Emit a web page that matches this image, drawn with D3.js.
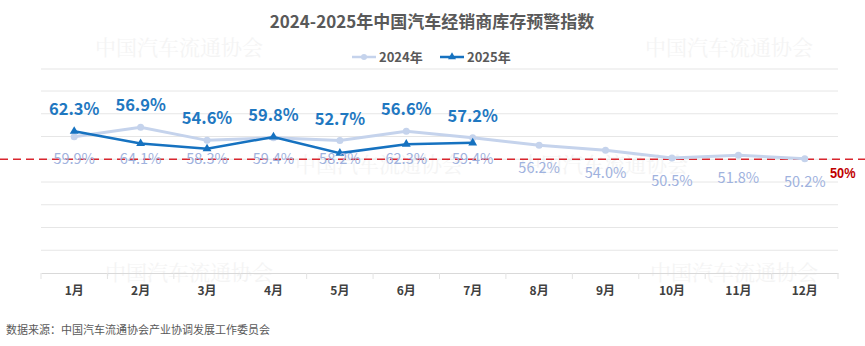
<!DOCTYPE html>
<html>
<head>
<meta charset="utf-8">
<script src="https://cdn.jsdelivr.net/npm/d3@7/dist/d3.min.js"></script>
<style>
  html, body { margin: 0; padding: 0; background: #fff; }
  svg { display: block; font-family: "Noto Sans CJK SC", "Noto Sans", sans-serif; }
</style>
</head>
<body>
<svg id="chart" width="865" height="346"></svg>
<script>
// Monthly dealer inventory warning index (%)
const months = ["1月", "2月", "3月", "4月", "5月", "6月", "7月", "8月", "9月", "10月", "11月", "12月"];
const values2024 = [59.9, 64.1, 58.3, 59.4, 58.2, 62.3, 59.4, 56.2, 54.0, 50.5, 51.8, 50.2];
const values2025 = [62.3, 56.9, 54.6, 59.8, 52.7, 56.6, 57.2];
const yTicks = [0, 10, 20, 30, 40, 50, 60, 70, 80];
const threshold = 50;
const titleText = "2024-2025年中国汽车经销商库存预警指数";
const seriesNames = ["2024年", "2025年"];
const sourceText = "数据来源：中国汽车流通协会产业协调发展工作委员会";
const watermark = "中国汽车流通协会";

const svg = d3.select("#chart");
const W = 865, H = 346;
const plotLeft = 41, plotRight = 838, plotTop = 91, plotBottom = 273;

const x = d3.scaleBand().domain(months).range([plotLeft, plotRight]);
const y = d3.scaleLinear().domain([0, 80]).range([plotBottom, plotTop]);
const cx = m => x(m) + x.bandwidth() / 2;

// faint association watermarks
const wm = svg.append("g").attr("fill", "#f4f4f4")
  .attr("font-family", "'Noto Serif CJK SC', 'DejaVu Serif', serif")
  .attr("font-size", 21);
[[95, 55], [645, 55], [295, 172], [520, 172], [105, 280], [650, 280]].forEach(([wx, wy]) => {
  wm.append("text").attr("x", wx).attr("y", wy).text(watermark);
});

// title
svg.append("text")
  .attr("x", 432).attr("y", 28)
  .attr("text-anchor", "middle")
  .attr("font-size", 17).attr("font-weight", "bold")
  .attr("fill", "#595959")
  .text(titleText);

// separator under legend
svg.append("line")
  .attr("x1", plotLeft).attr("x2", plotRight).attr("y1", 69).attr("y2", 69)
  .attr("stroke", "#eeeeee").attr("stroke-width", 1.5);

// legend
const legend = svg.append("g").attr("font-size", 13).attr("font-weight", "bold").attr("fill", "#595959");
const lg1 = legend.append("g").attr("transform", "translate(352,57)");
lg1.append("line").attr("x1", 0).attr("x2", 24).attr("stroke", "#c5d3ec").attr("stroke-width", 2.5);
lg1.append("circle").attr("cx", 12).attr("r", 3).attr("fill", "#c5d3ec");
lg1.append("text").attr("x", 27).attr("y", 5).text(seriesNames[0]);
const lg2 = legend.append("g").attr("transform", "translate(440,57)");
lg2.append("line").attr("x1", 0).attr("x2", 24).attr("stroke", "#1672c0").attr("stroke-width", 2.5);
lg2.append("path").attr("d", d3.symbol(d3.symbolTriangle, 28)()).attr("transform", "translate(12,0)").attr("fill", "#1672c0");
lg2.append("text").attr("x", 27).attr("y", 5).text(seriesNames[1]);

// grid lines
svg.append("g").selectAll("line").data(yTicks.filter(t => t !== 0)).join("line")
  .attr("x1", plotLeft).attr("x2", plotRight)
  .attr("y1", d => y(d)).attr("y2", d => y(d))
  .attr("stroke", "#e6e6e6").attr("stroke-width", 1);

// x axis
const xAxis = svg.append("g").attr("transform", `translate(0,${plotBottom})`)
  .call(d3.axisBottom(x).tickSize(0).tickPadding(13));
xAxis.select(".domain").attr("stroke", "#d9d9d9");
xAxis.selectAll("text").attr("font-size", 12).attr("font-weight", "bold").attr("fill", "#404040")
  .attr("font-family", "'Noto Sans CJK SC', sans-serif");
// band boundary ticks
xAxis.append("g").selectAll("line").data(d3.range(months.length + 1)).join("line")
  .attr("x1", i => plotLeft + i * x.bandwidth()).attr("x2", i => plotLeft + i * x.bandwidth())
  .attr("y1", 0).attr("y2", 6).attr("stroke", "#e3e3e3");

// 50% warning line
svg.append("line")
  .attr("x1", 0).attr("x2", W).attr("y1", y(threshold)).attr("y2", y(threshold))
  .attr("stroke", "#d9262e").attr("stroke-width", 1.5).attr("stroke-dasharray", "8,5");
// condensed red label for the threshold
svg.append("text")
  .attr("transform", `translate(830,${y(threshold) + 19}) scale(0.85,1)`)
  .attr("font-size", 15).attr("font-weight", "bold").attr("fill", "#c00000")
  .attr("font-family", "'Liberation Sans', sans-serif")
  .text(threshold + "%");

const line = d3.line().x((d, i) => cx(months[i])).y(d => y(d));

// 2024 series
svg.append("path").datum(values2024).attr("d", line)
  .attr("fill", "none").attr("stroke", "#c5d3ec").attr("stroke-width", 3);
svg.append("g").selectAll("circle").data(values2024).join("circle")
  .attr("cx", (d, i) => cx(months[i])).attr("cy", d => y(d)).attr("r", 3.5)
  .attr("fill", "#c5d3ec");

// 2025 series
svg.append("path").datum(values2025).attr("d", line)
  .attr("fill", "none").attr("stroke", "#1672c0").attr("stroke-width", 2.5);
svg.append("g").selectAll("path").data(values2025).join("path")
  .attr("d", d3.symbol(d3.symbolTriangle, 34)())
  .attr("transform", (d, i) => `translate(${cx(months[i])},${y(d)})`)
  .attr("fill", "#1672c0");

// 2024 labels (below the lines)
svg.append("g").selectAll("text").data(values2024).join("text")
  .attr("x", (d, i) => cx(months[i])).attr("y", (d, i) => i < values2025.length ? 164 : y(d) + 28)
  .attr("text-anchor", "middle").attr("font-size", 14.5)
  .attr("fill", "#9fb2de")
  .text(d => d.toFixed(1) + "%");

// 2025 labels (above)
svg.append("g").selectAll("text").data(values2025).join("text")
  .attr("x", (d, i) => cx(months[i])).attr("y", (d, i) => Math.min(y(d), y(values2024[i])) - 16)
  .attr("text-anchor", "middle").attr("font-size", 16.5).attr("font-weight", "bold")
  .attr("fill", "#1f78c1")
  .text(d => d.toFixed(1) + "%");

// source note
svg.append("text")
  .attr("x", 6).attr("y", 334)
  .attr("font-size", 11).attr("fill", "#595959")
  .text(sourceText);
</script>
</body>
</html>
